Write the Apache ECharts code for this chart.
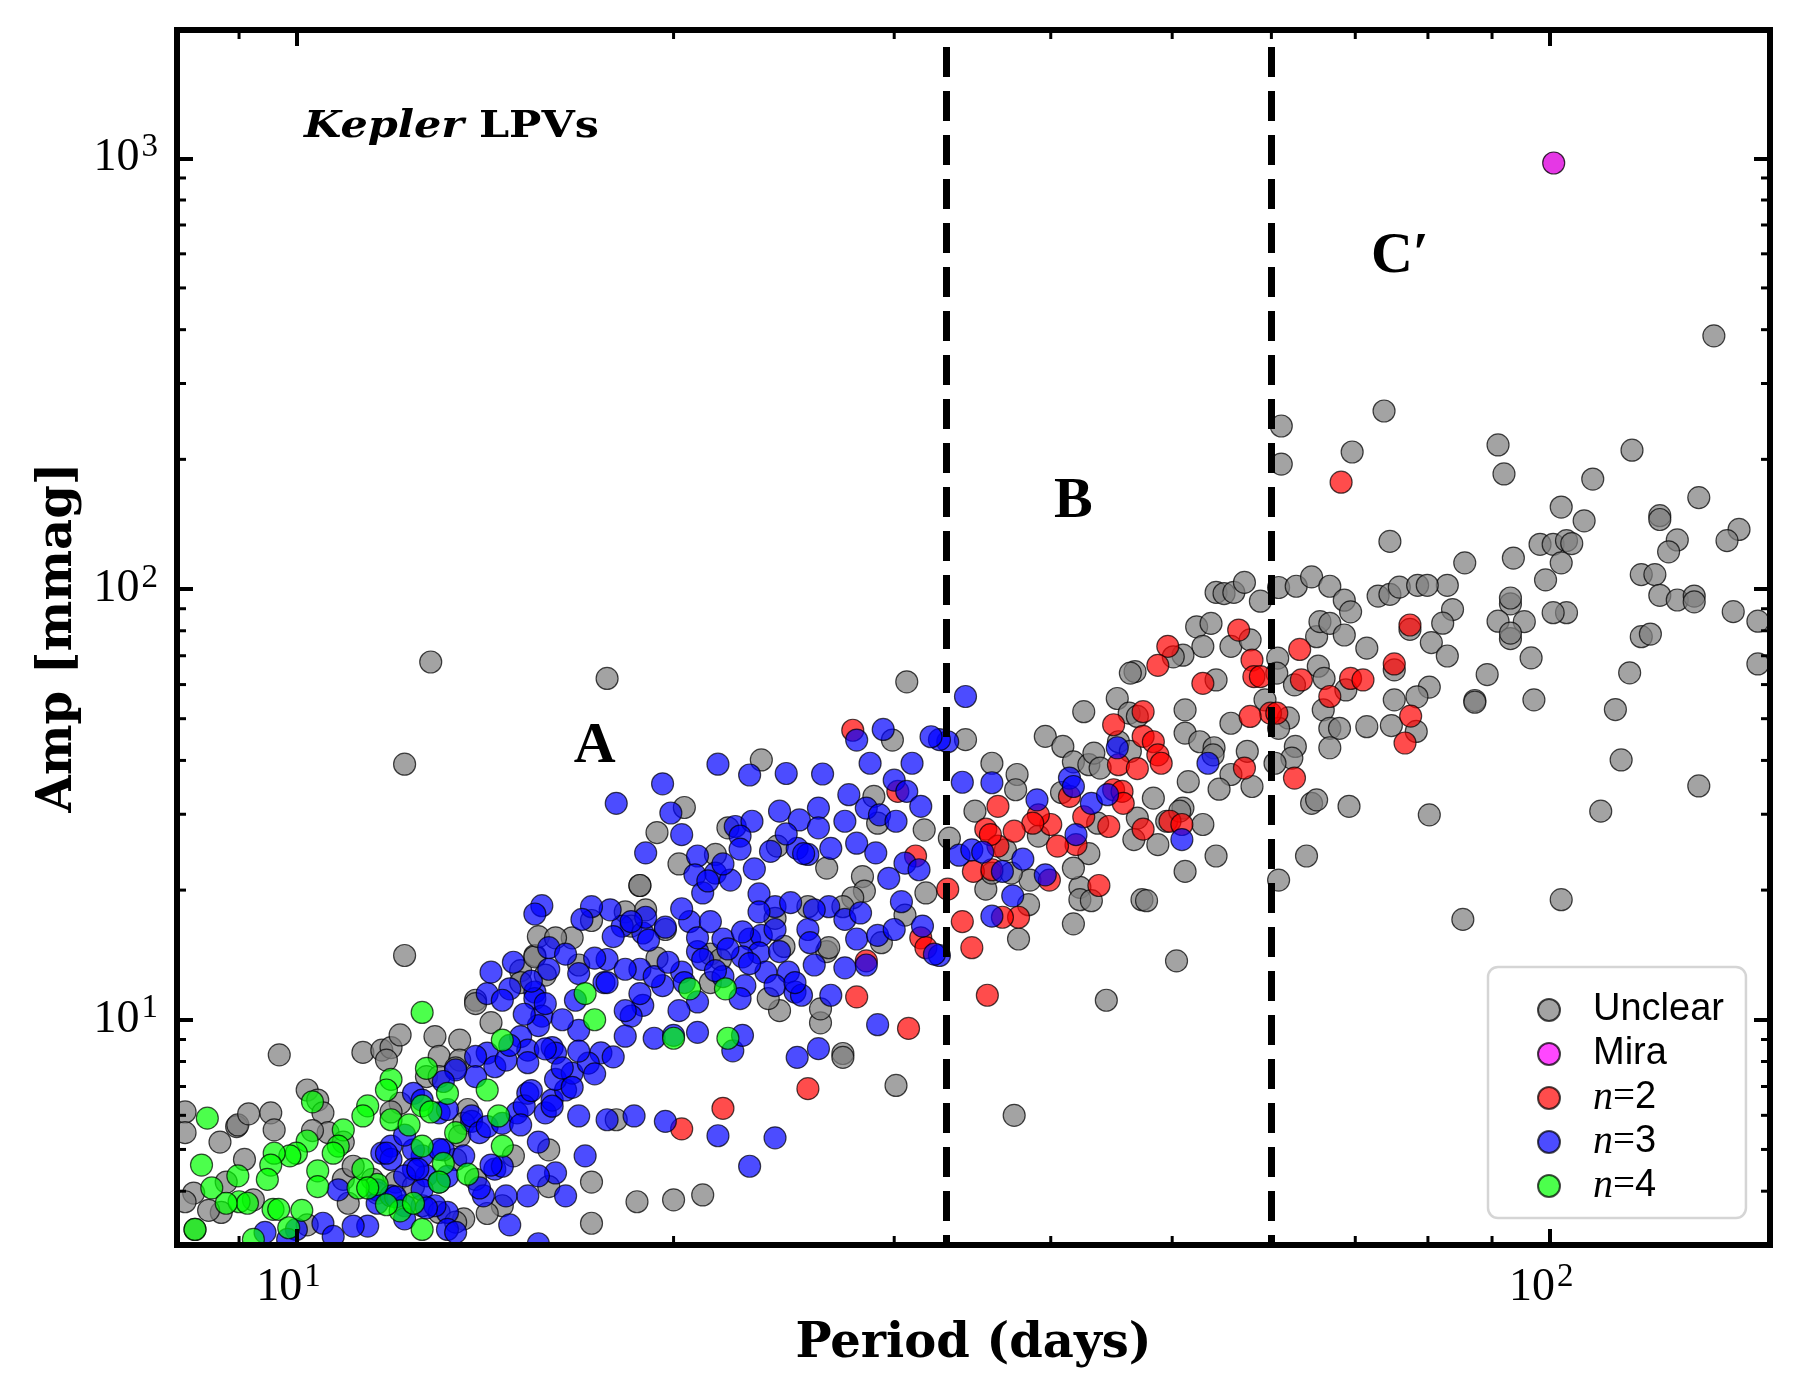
<!DOCTYPE html>
<html>
<head>
<meta charset="utf-8">
<title>Kepler LPVs - period vs amplitude</title>
<script src="https://cdn.jsdelivr.net/npm/echarts@6/dist/echarts.min.js"></script>
<style>
  html, body { margin: 0; padding: 0; background: #fff; }
  #chart { width: 1800px; height: 1400px; }
</style>
</head>
<body>
<div id="chart"></div>
<script>
// axis extents (period in days, amplitude in mmag)
const periodRange = [8.03, 150];
const ampRange = [3.0, 1985];
// region boundaries (dashed lines)
const boundaries = [33.0, 60.0];
// region labels and where they sit
const labelTexts = ['A', 'B', 'C\u2032'];
const labelSpots = [[17.3, 43.0], [41.7, 159], [76.0, 591]];
const legendNames = ['Unclear', 'Mira', 'n=2', 'n=3', 'n=4'];

// [period, amp]
const unclear = [
  [54.2,98.2],[55.0,97.6],[56.0,98.2],[57.1,103.6],[58.8,93.7],[60.8,100.8],[62.8,101.5],[64.6,106.7],[66.8,101.5],[68.6,94.2],[69.4,88.5],
  [52.3,81.7],[53.7,83.2],[52.9,73.6],[55.7,73.6],[57.7,76.2],[60.7,69.1],[60.6,63.8],[62.6,59.9],[65.2,77.5],[65.6,84.0],[66.8,83.2],[68.6,78.2],
  [65.4,66.2],[66.1,62.0],[68.8,58.3],[66.0,52.4],[66.8,47.5],[68.0,47.5],[66.8,42.8],[61.9,50.2],[60.8,47.5],[62.7,43.1],[62.3,40.5],[60.4,39.4],
  [64.6,31.8],[65.2,32.4],[69.2,31.3],[64.0,24.0],[60.8,21.1],
  [54.2,61.5],[51.2,52.4],[51.2,46.3],[52.6,44.2],[54.0,42.8],[53.9,41.2],[57.4,42.0],[55.7,48.8],[55.7,37.1],[54.5,34.3],[57.9,34.8],[51.5,35.7],[59.3,55.3],
  [51.0,70.2],[50.1,69.6],[46.7,64.3],[46.3,63.8],[45.2,55.7],[42.5,51.9],[46.2,51.5],[46.9,50.6],[39.6,45.5],[40.9,43.1],[41.7,39.7],[42.9,39.1],
  [43.3,41.6],[43.8,38.4],[45.3,44.2],[46.3,42.0],[40.8,33.7],[48.3,32.7],[46.9,29.4],[49.5,28.9],[51.0,31.0],[50.7,30.5],[52.9,28.4],[46.6,26.2],
  [48.7,25.5],[54.2,24.0],[51.2,22.1],[50.4,13.7],[44.3,11.1],[41.7,16.7],[47.3,19.0],[47.7,18.9],[42.2,20.3],[42.2,19.0],[43.1,18.9],[42.9,24.3],
  [41.7,22.5],[43.6,28.6],[37.6,37.1],[37.5,34.2],[35.9,39.4],[34.8,30.5],[34.2,44.7],[33.2,26.4],[39.1,26.7],[38.5,21.1],[38.4,18.5],[35.5,20.1],
  [37.7,15.4],[35.9,21.9],[37.2,21.9],[36.8,24.8],
  [61.1,239],[61.1,195],[69.6,208],[73.8,259],[135.3,387],[74.6,129],[91.0,216],[92.0,185],[116.4,210],[108.3,180],[131.6,163],[102.2,155],
  [106.6,144],[122.5,148],[122.5,145],[126.5,130],[124.5,122],[141.7,137.5],[138.6,129.5],[98.3,127],[100.7,127],[103.2,129.5],[104.2,127.5],
  [102.2,115],[85.6,115],[93.6,118],[99.3,105],[118.4,108],[121.4,108],[122.5,96.7],[126.5,94.3],[130.5,96.3],[130.5,93.4],[140.2,88.6],
  [146.7,84.2],[146.7,67.0],[118.4,77.5],[120.4,78.6],[115.9,63.9],[112.9,52.5],[114.1,40.1],[109.9,30.5],[131.6,34.9],[102.2,19.0],[103.2,88.1],
  [100.7,88.1],[96.7,69.2],[97.2,55.3],[93.1,92.4],[93.1,95.3],[91.0,84.2],[95.5,84.0],[93.1,76.7],[93.1,79.0],[89.2,63.3],[87.2,55.1],[87.2,54.6],
  [80.2,29.9],[82.9,102],[83.7,89.6],[82.2,83.3],[80.5,75.1],[82.9,69.9],[80.2,59.2],[78.4,56.2],[75.2,55.3],[77.4,80.6],[75.2,64.9],[78.3,46.7],
  [74.8,48.2],[71.5,47.9],[71.5,72.9],[73.0,96.3],[74.6,97.2],[75.9,101],[78.5,102],[79.9,102],
  [85.3,17.1],[12.8,67.7],[12.2,39.2],[21.1,3.92],[30.1,7.04],[27.3,8.35],[37.4,6.0],
  [17.7,62.0],[30.7,60.9],[23.5,40.1],[29.9,44.6],[28.9,33.0],[29.1,28.6],[22.1,27.9],[19.4,27.2],[21.6,24.2],[20.2,23.0],[18.8,20.5],[26.5,22.5],
  [28.3,21.5],[28.4,19.9],[27.8,19.2],[25.6,18.3],[27.3,18.3],[31.8,19.7],[30.6,17.5],[18.3,17.8],[19.0,18.0],[18.5,16.5],[16.8,13.4],[16.6,15.5],
  [24.1,17.2],[24.5,14.8],[26.5,14.4],[26.6,14.7],[29.3,15.1],[21.4,14.2],[21.8,13.8],[19.7,16.2],[19.4,13.9],[24.3,10.5],[26.2,9.84],[26.2,10.6],
  [27.3,8.18],[21.4,12.2],[23.8,11.2],[31.7,27.6],
  [12.2,14.1],[9.69,8.29],[8.15,6.11],[8.15,5.47],[8.96,5.65],[8.98,5.70],[9.54,6.08],[9.60,5.55],[10.2,6.87],[10.4,6.51],[10.5,6.08],[10.6,5.47],
  [11.3,8.40],[11.7,8.50],[11.9,8.62],[12.1,9.22],[11.8,8.06],[12.9,9.14],[13.5,8.97],[13.0,8.22],[13.5,8.06],[12.7,7.38],[13.0,7.38],[12.1,6.40],
  [11.9,6.11],[13.9,11.1],[13.9,10.9],[15.1,13.0],[15.5,14.1],[15.5,14.0],[15.6,15.6],[15.8,12.7],
  [18.0,5.86],[17.2,4.20],[18.7,3.78],[20.0,3.82],[17.2,3.37],[14.9,4.83],[13.7,6.19],[13.6,5.75],[13.5,5.37],[13.4,4.74],[13.9,4.26],[14.6,3.70],
  [10.2,3.34],[8.71,3.57],[8.28,3.96],[8.15,3.78],[9.24,3.82],[9.09,4.74],[8.79,4.20],[8.30,3.26],[10.9,4.26],[11.1,4.57],[11.5,4.26],[11.0,3.75],
  [11.6,3.96],[12.0,4.20],[12.4,4.10],[12.6,3.70],[13.0,3.57],[13.6,3.45],[15.9,4.99],[15.9,4.10],
  [13.4,3.39],[14.2,3.55],[16.1,15.5],[17.2,17.0],[18.8,20.5],[20.4,31.1],[24.2,25.3],[15.1,12.2],[14.3,9.85],[13.4,7.73],[10.9,5.20],[10.3,5.53],
  [9.16,6.05],[8.69,5.2],[8.51,3.61]
];

const mira = [[100.8, 975]];

const n2 = [
  [49.6,73.6],[48.7,66.5],[56.5,80.3],[57.9,68.4],[58.1,62.6],[58.8,62.6],[59.9,51.5],[60.6,51.5],[57.7,50.6],[63.2,72.4],[63.4,61.5],[66.8,56.3],
  [69.4,62.0],[62.6,36.4],[57.1,38.4],[52.9,60.4],[47.4,51.9],[44.9,48.4],[47.4,45.5],[48.3,44.2],[48.7,41.2],[49.0,39.4],[45.3,39.1],[46.9,38.3],
  [44.9,34.2],[45.6,33.9],[45.7,31.8],[41.4,33.0],[42.5,29.6],[44.5,28.1],[47.4,27.7],[49.8,28.9],[50.9,28.4],[43.7,20.5],[41.9,25.5],[40.5,25.3],
  [40.0,28.4],[39.1,29.9],[38.7,28.6],[37.4,27.4],[36.3,31.3],[35.5,27.7],[36.3,25.3],[35.8,26.9],[34.7,22.1],[35.9,22.3],[39.9,21.1],[37.7,17.3],
  [36.6,17.3],[34.0,16.9],[34.6,14.7],[35.6,11.4],[33.1,20.1],
  [68.2,177],[77.4,82.5],[75.2,67.0],[77.5,50.7],[76.7,43.9],[71.0,61.5],
  [27.8,47.0],[30.2,33.9],[31.2,24.0],[31.5,15.5],[31.8,14.7],[28.5,13.7],[28.0,11.3],[30.8,9.55],
  [21.9,6.23],[25.6,6.92],[20.3,5.58]
];

const n3 = [
  [34.2,56.3],[33.1,44.2],[32.6,44.7],[34.0,35.6],[35.9,35.5],[39.0,32.4],[41.4,36.4],[41.7,34.8],[43.1,31.8],[44.4,33.3],[45.2,42.8],[53.4,39.4],
  [50.9,26.2],[41.9,26.9],[38.0,23.6],[39.6,21.7],[36.6,22.1],[37.3,19.4],[35.9,17.4],[33.8,24.1],[34.6,24.8],[35.3,24.5],[32.6,14.1],
  [29.4,47.2],[28.0,44.6],[32.1,45.4],[31.0,39.4],[28.7,39.4],[30.0,36.0],[30.7,33.9],[31.5,31.3],[27.6,33.3],[28.5,31.0],[29.2,29.9],[30.1,28.9],
  [27.4,28.9],[21.7,39.2],[23.0,37.0],[24.6,37.3],[26.3,37.2],[19.6,35.3],[18.0,31.8],[19.9,30.2],[20.3,26.9],[19.0,24.4],[20.9,24.0],[21.6,21.9],
  [22.2,21.1],[20.8,21.7],[21.1,19.7],[20.6,16.9],[22.4,28.1],[23.1,28.9],[22.6,26.7],[24.3,30.5],[25.2,29.1],[26.1,31.0],[25.1,25.0],[25.6,24.2],
  [26.7,25.0],[28.0,25.7],[29.0,24.4],[30.6,23.1],[31.4,22.3],[29.7,21.3],[30.4,18.8],[31.6,16.5],[32.3,14.2],[26.6,18.3],[25.9,18.0],[27.4,17.1],
  [28.2,17.7],[28.0,15.4],[29.1,15.7],[30.0,16.2],[25.6,16.2],[25.7,15.1],[23.4,19.6],[24.1,18.3],[23.0,15.4],[23.5,15.7],[23.4,14.3],[24.3,14.4],
  [22.7,14.0],[21.9,15.4],[20.9,14.4],[21.1,13.8],[20.3,12.9],[19.6,12.0],[18.8,13.1],[18.2,16.5],[17.8,18.0],[17.2,18.3],[16.9,17.1],[17.7,13.8],
  [17.6,12.2],[18.9,15.9],[19.0,17.3],[21.9,12.6],[22.8,12.0],[23.7,12.9],[24.7,12.9],[24.1,12.0],[25.0,11.6],[25.3,11.4],[26.7,11.4],[28.5,13.4],
  [27.4,13.2],[25.9,13.4],[29.1,9.74],[26.1,8.57],[25.1,8.18],[25.0,12.2],[22.6,11.2],[20.9,11.0],[20.2,10.5],[18.9,10.8],[18.5,10.2],[18.3,9.16],
  [19.3,9.06],[20.0,9.20],[20.9,9.35],[22.3,8.47],[22.7,9.20],[16.8,9.45],[17.5,8.38],
  [15.7,18.4],[15.5,17.6],[15.9,14.7],[14.2,11.5],[14.8,11.8],[15.5,11.6],[15.5,11.2],[15.7,10.2],[15.6,9.69],[15.1,9.14],[14.2,8.37],[13.9,8.22],
  [14.4,7.78],[14.7,8.06],[15.3,8.50],[16.0,8.62],[16.1,8.37],[13.9,7.38],[13.4,7.65],[13.1,7.19],[12.4,6.75],[12.6,6.51],[13.0,6.08],[13.2,6.19],
  [13.8,5.81],[13.8,5.98],[14.0,5.47],[14.2,5.65],[14.6,5.75],[15.0,6.08],[15.3,6.75],[15.2,6.31],[15.8,6.08],[16.0,6.51],[16.4,6.87],[16.1,7.27],
  [16.6,7.52],[17.1,7.93],[16.8,5.98],[17.7,5.86],[18.6,5.98],[19.7,5.81],[17.0,4.83],[16.1,4.41],[15.6,4.34],[16.4,3.90],[15.3,3.90],[14.7,3.90],
  [14.1,3.90],[14.4,4.50],[14.6,4.57],[14.8,3.34],[15.6,3.02],[12.7,4.34],[13.0,4.20],[13.1,4.99],[12.6,4.83],[12.4,4.99],[12.6,4.03],[13.2,3.57],
  [12.9,3.70],[13.2,3.26],[13.4,3.21],[11.7,4.90],[11.9,5.09],[11.9,4.74],[12.4,4.50],[12.2,4.34],[11.6,4.03],[11.6,3.75],[11.9,3.90],[12.2,3.70],
  [12.2,3.45],[11.4,3.32],[11.1,3.32],[10.5,3.37],[10.8,4.03],[10.7,3.14],[10.0,3.26],[9.44,3.21],[9.84,3.09],
  [21.7,5.38],[24.1,5.32],[23.0,4.57],
  [14.3,12.9],[14.9,13.6],[15.4,12.3],[15.9,13.1],[16.4,14.2],[16.8,12.8],[17.3,13.9],[14.6,11.1],[15.2,10.3],[15.8,10.9],[16.3,10.0],[16.7,11.1],
  [17.7,12.2],[18.3,13.1],[18.8,11.5],[19.3,12.6],[19.8,13.6],[20.4,12.2],[17.9,15.6],[18.5,16.9],[19.1,15.3],[19.7,16.4],[20.3,18.1],[18.3,10.5],
  [20.9,15.5],[21.4,16.9],[22.1,14.6],[22.7,16.0],[23.4,17.8],[24.1,16.2],[24.8,18.7],[21.3,21.0],[21.9,23.0],[22.6,24.9],[23.2,22.4],[23.9,24.6],
  [24.6,27.0],[25.4,24.3],[26.1,27.9],[21.6,13.0],[23.0,13.5],
  [11.8,4.9],[12.2,5.4],[12.5,4.5],[13.0,5.0],[13.2,4.33],[13.6,4.83],[14.0,4.07],[14.3,4.60],[12.0,3.88],[12.7,3.66],
  [14.8,8.72],[15.3,7.95],[15.8,8.56],[16.3,7.73],[16.8,8.46],[17.3,7.49],[17.9,8.20],[15.4,6.85],[16.0,6.30],[16.6,6.97],[15.1,5.70],[15.6,5.20]
];

const n4 = [
  [12.6,10.4],[12.7,7.71],[11.9,7.27],[11.8,6.87],[10.3,6.45],[11.4,6.31],[11.3,5.98],[10.9,5.55],[11.9,5.86],[12.3,5.70],[12.6,6.31],[12.8,6.11],
  [13.2,6.75],[14.2,6.87],[14.6,8.97],[14.5,5.98],[14.6,5.09],[13.4,5.47],[12.6,5.09],[13.1,4.64],[13.7,4.38],[13.0,4.20],[11.6,4.15],[11.2,4.07],
  [11.3,4.50],[10.4,4.46],[10.4,4.10],[10.8,5.09],[10.7,4.90],[10.2,5.23],[10.0,4.90],[9.88,4.83],[9.60,4.90],[9.54,4.60],[9.48,4.26],[9.58,3.63],
  [9.68,3.63],[8.98,4.34],[9.00,3.78],[9.14,3.75],[8.56,4.07],[8.40,4.60],[8.79,3.75],[8.30,3.26],[9.24,3.09],[12.1,3.60],[12.4,3.75],[12.6,3.26],
  [8.49,5.91],
  [17.0,11.5],[17.3,10.0],[20.6,11.8],[22.0,11.8],[20.0,9.06],[22.1,9.06],
  [11.4,4.07],[11.8,3.72],[10.1,3.61],[9.86,3.29]
];

const serif = 'Liberation Serif';
const boldSerif = 'DejaVu Serif';
const chart = echarts.init(document.getElementById('chart'));

function dots(name, data, color, alpha) {
  return {
    name: name,
    type: 'scatter',
    data: data,
    symbol: 'circle',
    symbolSize: 22,
    itemStyle: { color: color, opacity: alpha, borderColor: '#000', borderWidth: 1.2 },
    emphasis: { disabled: true },
    z: 2
  };
}

// only label exact decades, 10^n style
function decadeLabel(v) {
  const e = Math.log10(v);
  const r = Math.round(e);
  return Math.abs(e - r) < 1e-6 ? '{b|10}{s|' + r + '}' : '';
}

function tickRich(rightPad) {
  return {
    b: { fontFamily: serif, fontSize: 46, lineHeight: 46, color: '#000' },
    s: { fontFamily: serif, fontSize: 33, lineHeight: 33, padding: [0, rightPad, 22, 2], color: '#000' }
  };
}

function logAxis(range, position, labels, extra) {
  return Object.assign({
    type: 'log',
    logBase: 10,
    min: range[0],
    max: range[1],
    position: position,
    z: 10,
    splitLine: { show: false },
    axisLine: { show: true, lineStyle: { color: '#000', width: 6, cap: 'square' } },
    axisTick: { show: true, inside: true, length: 16, lineStyle: { color: '#000', width: 4 } },
    axisLabel: labels || { show: false }
  }, extra || {});
}

const titleStyle = { fontFamily: boldSerif, fontWeight: 'bold', fontSize: 48, lineHeight: 48, color: '#000' };

const option = {
  animation: false,
  backgroundColor: '#fff',
  grid: { left: 177, right: 30, top: 30, bottom: 155 },
  xAxis: [
    logAxis(periodRange, 'bottom',
      { show: true, formatter: decadeLabel, rich: tickRich(16), margin: 20 },
      { name: 'Period (days)', nameLocation: 'middle', nameGap: 68, nameTextStyle: titleStyle }),
    logAxis(periodRange, 'top')
  ],
  yAxis: [
    logAxis(ampRange, 'left',
      { show: true, formatter: decadeLabel, rich: tickRich(0), margin: 19 },
      { name: 'Amp [mmag]', nameLocation: 'middle', nameGap: 91, nameRotate: 90, nameTextStyle: titleStyle }),
    logAxis(ampRange, 'right')
  ],
  legend: {
    data: legendNames.map(function (n) {
      return n === 'Mira' ? { name: n, itemStyle: { color: '#ff00ff', opacity: 0.72 } } : n;
    }),
    orient: 'vertical',
    left: 1488,
    top: 967,
    icon: 'circle',
    itemWidth: 78,
    itemHeight: 22,
    itemGap: 4,
    padding: [23, 22, 12, 49],
    backgroundColor: '#fff',
    borderColor: '#d5d5d5',
    borderWidth: 2.5,
    borderRadius: 10,
    selectedMode: false,
    z: 20,
    formatter: function (name) {
      if (name.indexOf('n=') === 0) return '{i|n}{e|=}{d|' + name.slice(2) + '}';
      return '{t|' + name + '}';
    },
    textStyle: {
      lineHeight: 40,
      height: 40,
      rich: {
        t: { fontFamily: 'Liberation Sans', fontSize: 38, lineHeight: 40, height: 40, color: '#000' },
        i: { fontFamily: serif, fontStyle: 'italic', fontSize: 40, lineHeight: 40, height: 40, color: '#000' },
        e: { fontFamily: serif, fontSize: 39, lineHeight: 40, height: 40, color: '#000' },
        d: { fontFamily: 'Liberation Sans', fontSize: 38, lineHeight: 40, height: 40, color: '#000' }
      }
    }
  },
  series: [
    Object.assign(dots('Unclear', unclear, '#808080', 0.72), {
      markLine: {
        silent: true,
        symbol: ['none', 'none'],
        label: { show: false },
        z: 5,
        lineStyle: { color: '#000', width: 7, type: [30, 14], dashOffset: 20 },
        data: boundaries.map(function (p) {
          return [{ coord: [p, ampRange[0]] }, { coord: [p, ampRange[1]] }];
        })
      }
    }),
    dots('Mira', mira, '#de00de', 0.78),
    dots('n=2', n2, '#ff0000', 0.7),
    dots('n=3', n3, '#0000ff', 0.7),
    dots('n=4', n4, '#00ff00', 0.7)
  ]
};

chart.setOption(option);

// minor ticks at 2..9 x 10^k inside the frame on all four sides,
// white masks outside the frame (clips the overhanging dots), and the text annotations
function minorValues(lo, hi) {
  const out = [];
  for (let e = Math.floor(Math.log10(lo)); e <= Math.ceil(Math.log10(hi)); e++) {
    for (let m = 2; m <= 9; m++) {
      const v = m * Math.pow(10, e);
      if (v > lo && v < hi) out.push(v);
    }
  }
  return out;
}

function tickLine(x1, y1, x2, y2) {
  return { type: 'line', silent: true, z: 11, shape: { x1: x1, y1: y1, x2: x2, y2: y2 }, style: { stroke: '#000', lineWidth: 3 } };
}

function decorate() {
  const left = chart.convertToPixel({ xAxisIndex: 0 }, periodRange[0]);
  const right = chart.convertToPixel({ xAxisIndex: 0 }, periodRange[1]);
  const bottom = chart.convertToPixel({ yAxisIndex: 0 }, ampRange[0]);
  const top = chart.convertToPixel({ yAxisIndex: 0 }, ampRange[1]);
  const minorLen = 9;
  const els = [];

  const W = chart.getWidth(), H = chart.getHeight();
  [[0, 0, W, top], [0, bottom, W, H - bottom], [0, 0, left, H], [right, 0, W - right, H]].forEach(function (r) {
    els.push({ type: 'rect', silent: true, z: 8, shape: { x: r[0], y: r[1], width: r[2], height: r[3] }, style: { fill: '#fff' } });
  });

  minorValues(periodRange[0], periodRange[1]).forEach(function (v) {
    const x = chart.convertToPixel({ xAxisIndex: 0 }, v);
    els.push(tickLine(x, bottom, x, bottom - minorLen));
    els.push(tickLine(x, top, x, top + minorLen));
  });
  minorValues(ampRange[0], ampRange[1]).forEach(function (v) {
    const y = chart.convertToPixel({ yAxisIndex: 0 }, v);
    els.push(tickLine(left, y, left + minorLen, y));
    els.push(tickLine(right, y, right - minorLen, y));
  });

  labelTexts.forEach(function (t, i) {
    const p = chart.convertToPixel({ seriesIndex: 0 }, labelSpots[i]);
    els.push({
      type: 'text', silent: true, z: 20, x: p[0], y: p[1],
      style: { text: t, x: 0, y: 0, align: 'center', verticalAlign: 'middle', fill: '#000', font: 'bold 58px "Liberation Serif"' }
    });
  });

  els.push({
    type: 'text', silent: true, z: 20, x: left + 127, y: 127, scaleX: 1.13,
    style: {
      text: '{k|Kepler}{l| LPVs}', x: 0, y: 0, align: 'left', verticalAlign: 'middle',
      rich: {
        k: { fontFamily: boldSerif, fontWeight: 'bold', fontStyle: 'italic', fontSize: 38, fill: '#000' },
        l: { fontFamily: boldSerif, fontWeight: 'bold', fontSize: 38, fill: '#000' }
      }
    }
  });

  chart.setOption({ graphic: { elements: els } });
}

decorate();

window.addEventListener('resize', function () {
  chart.resize();
  decorate();
});
</script>
</body>
</html>
